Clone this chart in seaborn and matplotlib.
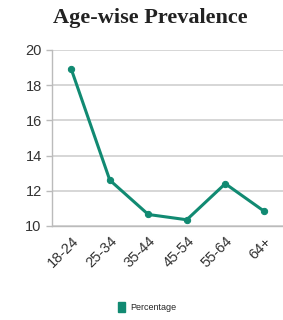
import matplotlib
matplotlib.use("Agg")
import matplotlib.pyplot as plt
import seaborn as sns
import pandas as pd
import numpy as np
from matplotlib.patches import Patch

categories = ["18-24", "25-34", "35-44", "45-54", "55-64", "64+"]
percentage = [18.9, 12.6, 10.65, 10.35, 12.4, 10.85]
yticks = [10, 12, 14, 16, 18, 20]

color = "#118a72"
sns.set_theme(style="white")
plt.rcParams['font.family'] = ['Liberation Sans', 'DejaVu Sans']

df = pd.DataFrame({"pos": np.arange(len(categories)), "Percentage": percentage})

fig = plt.figure(figsize=(2.83, 3.2), dpi=100)
ax = fig.add_axes([0.184, 0.294, 0.816, 0.55])
sns.lineplot(data=df, x="pos", y="Percentage", ax=ax, color=color, linewidth=2.2,
             marker="o", markersize=4.5, markeredgecolor=color, legend=False)

ax.set_xlim(-0.5, len(categories) - 0.5)
ax.set_ylim(10, 20)
ax.set_yticks(yticks)
ax.set_yticklabels([str(t) for t in yticks], fontsize=10.5, color="#333333")
ax.yaxis.grid(True, color="#d0d0d0", linewidth=1.2)
ax.set_axisbelow(True)

# tick marks between categories, labels at centers
ax.set_xticks(np.arange(len(categories) + 1) - 0.5)
ax.set_xticklabels([])
ax.tick_params(axis="x", which="major", length=4, color="#bbbbbb", width=1)
ax.set_xticks(np.arange(len(categories)), minor=True)
ax.set_xticklabels(categories, minor=True, rotation=45, ha="right", va="top",
                   rotation_mode="anchor", fontsize=10.5, color="#333333")
ax.tick_params(axis="x", which="minor", length=0, pad=6)
ax.tick_params(axis="y", length=4, color="#bbbbbb", width=1, left=True)

ax.set_xlabel("")
ax.set_ylabel("")
for s in ["top", "right"]:
    ax.spines[s].set_visible(False)
for s in ["left", "bottom"]:
    ax.spines[s].set_color("#bbbbbb")
    ax.spines[s].set_linewidth(1)

fig.text(0.53, 0.943, "Age-wise Prevalence", ha="center", va="center",
         fontsize=16, fontweight="bold", family="Liberation Serif", color="#222222")

handle = Patch(facecolor=color, edgecolor=color, label="Percentage")
fig.legend(handles=[handle], loc="center", bbox_to_anchor=(0.52, 0.04),
           frameon=False, fontsize=6.5, handlelength=0.8, handleheight=1.2,
           handletextpad=0.6)

fig.savefig("out.png", dpi=100)
